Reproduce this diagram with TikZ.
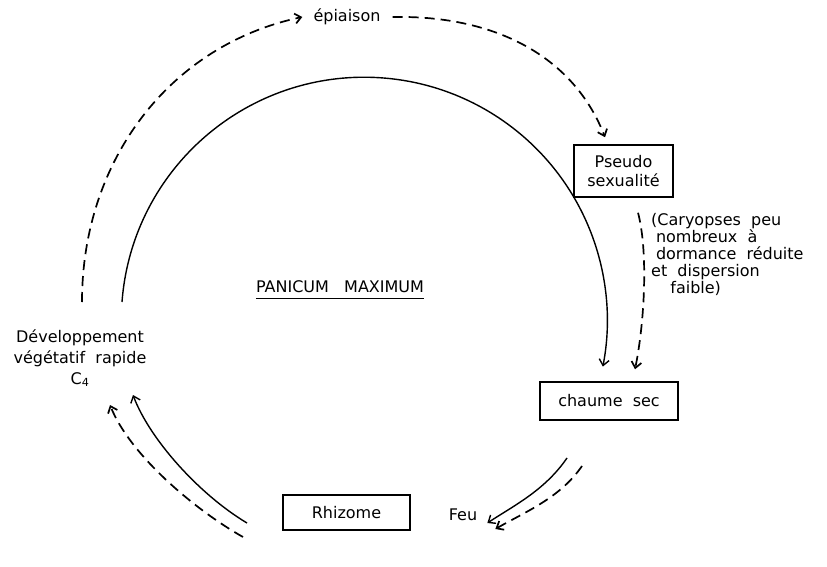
\documentclass[tikz,border=0pt]{standalone}
\usepackage{fontspec}
\setmainfont{DejaVu Sans}
\usetikzlibrary{arrows.meta}
\begin{document}
\begin{tikzpicture}[x=1pt,y=-1pt,
  lbl/.style={font=\fontsize{16}{21}\selectfont, inner sep=0pt, align=center},
  boxnode/.style={draw, line width=1.5pt, fill=white, font=\fontsize{16}{19}\selectfont, align=center, inner sep=0pt},
  conn/.style={line width=1.4pt, -{Straight Barb[length=6pt,width=10pt]}},
  dashln/.style={line width=1.7pt, dash pattern=on 10pt off 6pt}
]
\useasboundingbox (0,0) rectangle (827,567);

% nodes
\node[lbl] (epi) at (347,17) {épiaison};
\node[boxnode, minimum width=99pt, minimum height=52pt] (pseudo) at (623.5,171) {Pseudo\\sexualité};
\node[boxnode, minimum width=138pt, minimum height=38pt] (chaume) at (609,401) {chaume\ \ sec};
\node[boxnode, minimum width=127pt, minimum height=35pt] (rhiz) at (346.5,512.5) {Rhizome};
\node[lbl] (feu) at (463,515) {Feu};
\node[lbl] (dev) at (80,358) {Développement\\végétatif\ \ rapide\\C\textsubscript{4}};
\node[lbl, font=\fontsize{16}{17}\selectfont, align=left, anchor=north west] (cary) at (651,213)
  {(Caryopses\ \ peu\\\hspace{0.3em}nombreux\ \ à\\\hspace{0.3em}dormance\ \ réduite\\et\ \ dispersion\\\hspace{1.2em}faible)};
\node[lbl] (pan) at (340,287) {PANICUM\ \ \ MAXIMUM};
\draw[line width=1pt] ([yshift=-5pt]pan.south west) -- ([yshift=-5pt]pan.south east);

% free ends
\coordinate (sA) at (82,302);
\coordinate (sB) at (122,302);
\coordinate (c1) at (567,458);
\coordinate (c2) at (582,466);
\coordinate (r1) at (247,523);
\coordinate (r2) at (243,537);
\coordinate (d1) at (133,395);
\coordinate (d2) at (110,405);

% outer dashed cycle
\draw[conn, dashln] (sA) .. controls (82,160) and (170,45) .. ([xshift=-11pt]epi.west);
\draw[conn, dashln] ([xshift=12pt]epi.east) .. controls (500,15) and (575,60) .. ([xshift=-18.5pt,yshift=7pt]pseudo.north);
\draw[conn, dashln] ([xshift=14.5pt,yshift=-15pt]pseudo.south) .. controls (648,250) and (645,320) .. ([xshift=26pt,yshift=12pt]chaume.north);
\draw[conn, dashln] (c2) .. controls (560,498) and (525,512) .. ([xshift=18pt,yshift=-14pt]feu.east);
\draw[conn, dashln] (r2) .. controls (195,510) and (130,455) .. (d2);

% inner solid cycle
\draw[conn] (sB) arc[start angle=184.3, end angle=371, radius=243];
\draw[conn] (c1) .. controls (545,490) and (515,505) .. ([xshift=10pt,yshift=-8pt]feu.east);
\draw[conn] (r1) .. controls (200,495) and (150,440) .. (d1);
\end{tikzpicture}
\end{document}
